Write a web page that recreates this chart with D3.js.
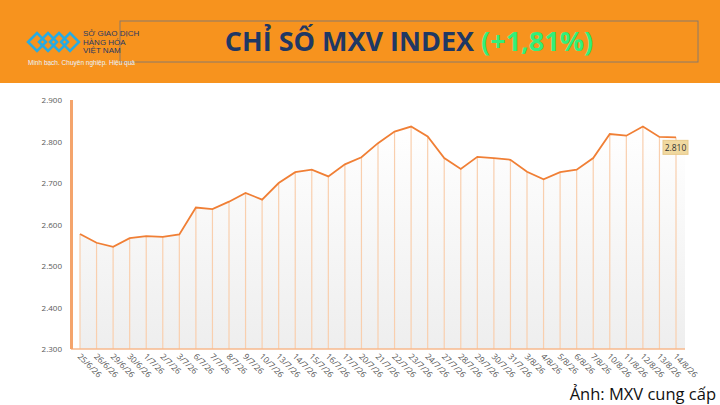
<!DOCTYPE html>
<html><head><meta charset="utf-8">
<script src="https://cdn.jsdelivr.net/npm/d3@7/dist/d3.min.js"></script>
<style>body{margin:0;background:#fff}svg{display:block}</style></head>
<body><svg id="c" width="720" height="405"></svg>
<script>
const dates=["25/6/26","26/6/26","29/6/26","30/6/26","1/7/26","2/7/26","3/7/26","6/7/26","7/7/26","8/7/26","9/7/26","10/7/26","13/7/26","14/7/26","15/7/26","16/7/26","17/7/26","20/7/26","21/7/26","22/7/26","23/7/26","24/7/26","27/7/26","28/7/26","29/7/26","30/7/26","31/7/26","3/8/26","4/8/26","5/8/26","6/8/26","7/8/26","10/8/26","11/8/26","12/8/26","13/8/26","14/8/26"];
const values=[2577,2556,2546,2567,2572,2570,2576,2641,2637,2655,2676,2660,2700,2726,2732,2716,2745,2762,2796,2824,2836,2812,2760,2734,2763,2760,2756,2727,2709,2726,2732,2760,2818,2814,2836,2811,2810];
const yTicks=[2300,2400,2500,2600,2700,2800,2900];
const svg=d3.select("#c");
const fmt=v=>d3.format(",")(v).replace(",",".");
svg.append("rect").attr("x",0).attr("y",0).attr("width",720).attr("height",83).attr("fill","#f7931e");
svg.append("rect").attr("x",120).attr("y",21).attr("width",578).attr("height",41).attr("fill","none").attr("stroke","#8a7a6a").attr("stroke-width",1);
const t=svg.append("text").attr("x",409).attr("y",51).attr("text-anchor","middle").attr("font-family","Open Sans").attr("font-weight","bold").attr("font-size",27);
t.append("tspan").attr("fill","#1f3864").text("CHỈ SỐ MXV INDEX ");
t.append("tspan").attr("fill","#33ee7a").text("(+1,81%)");
const lg=svg.append("g").attr("transform","translate(28,31)");
for(let i=0;i<4;i++){lg.append("path").attr("d",`M${i*11},${11} l9,-9 l9,9 l-9,9 z`).attr("fill","none").attr("stroke","#29abe2").attr("stroke-width",2.5);}
["SỞ GIAO DỊCH","HÀNG HÓA","VIỆT NAM"].forEach((s,i)=>svg.append("text").attr("x",83).attr("y",36+i*8.5).attr("font-family","Liberation Sans Narrow, Liberation Sans").attr("font-size",8).attr("fill","#1f3864").text(s));
svg.append("text").attr("x",28).attr("y",65).attr("font-family","Liberation Sans").attr("font-size",6.5).attr("fill","#e8f4ff").text("Minh bạch. Chuyên nghiệp. Hiệu quả");
const x=d3.scalePoint().domain(dates).range([80,676]);
const y=d3.scaleLinear().domain([2300,2900]).range([349,100]);
const gr=svg.append("defs").append("linearGradient").attr("id","g").attr("x1",0).attr("x2",0).attr("y1",0).attr("y2",1);
gr.append("stop").attr("offset","0%").attr("stop-color","#ffffff");
gr.append("stop").attr("offset","100%").attr("stop-color","#eeeeee");
svg.append("path").datum(values).attr("fill","url(#g)")
 .attr("d",d3.area().x((d,i)=>x(dates[i])).y0(349).y1(d=>y(d))(values));
svg.append("rect").attr("x",676).attr("y",y(values[36])).attr("width",9).attr("height",349-y(values[36])).attr("fill","url(#g)");
svg.selectAll(".v").data(values).enter().append("line").attr("x1",(d,i)=>x(dates[i])).attr("x2",(d,i)=>x(dates[i])).attr("y1",d=>y(d)).attr("y2",349).attr("stroke","#f9cfae").attr("stroke-width",1.2);
svg.append("line").attr("x1",71).attr("x2",685).attr("y1",349).attr("y2",349).attr("stroke","#f7b98c").attr("stroke-width",1.5);
svg.append("line").attr("x1",71.5).attr("x2",71.5).attr("y1",100).attr("y2",349).attr("stroke","#f4a46c").attr("stroke-width",3);
svg.append("path").attr("fill","none").attr("stroke","#f07f35").attr("stroke-width",1.8)
 .attr("d",d3.line().x((d,i)=>x(dates[i])).y(d=>y(d))(values));
svg.selectAll(".yt").data(yTicks).enter().append("text").attr("x",62).attr("y",d=>y(d)+3).attr("text-anchor","end").attr("font-family","Open Sans").attr("font-size",8).attr("fill","#595959").text(fmt);
svg.selectAll(".xt").data(dates).enter().append("text").attr("transform",d=>`translate(${x(d)-3},${357}) rotate(45)`).attr("font-family","Open Sans").attr("font-size",8.3).attr("fill","#555").text(d=>d);
const lx=x(dates[36]), ly=y(values[36])+12;
svg.append("rect").attr("x",lx-13).attr("y",ly-9).attr("width",25).attr("height",14).attr("fill","#f0d9a0").attr("stroke","#e8c98a");
svg.append("text").attr("x",lx-0.5).attr("y",ly+2).attr("text-anchor","middle").attr("font-family","Open Sans").attr("font-size",8.5).attr("fill","#333").text(fmt(values[36]));
svg.append("text").attr("x",716).attr("y",400).attr("text-anchor","end").attr("font-family","Open Sans").attr("font-size",16.5).attr("fill","#111").text("Ảnh: MXV cung cấp");
</script></body></html>
